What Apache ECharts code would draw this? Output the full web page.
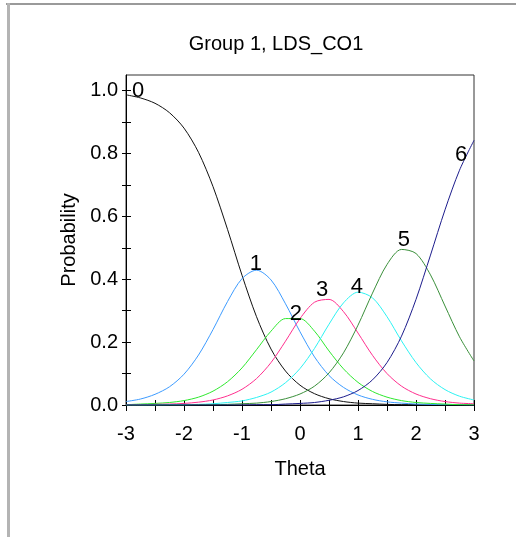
<html>
<head>
<meta charset="utf-8">
<script src="https://cdn.jsdelivr.net/npm/echarts@6/dist/echarts.min.js"></script>
<style>
html, body { margin: 0; padding: 0; background: #fff; }
#main { width: 516px; height: 537px; }
</style>
</head>
<body>
<div id="main"></div>
<script>
var theta = [-3, -2.75, -2.5, -2.25, -2, -1.75, -1.5, -1.25, -1, -0.75, -0.5, -0.25, 0,
             0.25, 0.5, 0.75, 1, 1.25, 1.5, 1.75, 2, 2.25, 2.5, 2.75, 3];

var p0 = [0.987, 0.977, 0.960, 0.930, 0.881, 0.804, 0.695, 0.559, 0.413, 0.281, 0.178, 0.108, 0.063,
          0.036, 0.020, 0.011, 0.006, 0.004, 0.002, 0.001, 0.001, 0, 0, 0, 0];
var p1 = [0.011, 0.019, 0.034, 0.058, 0.098, 0.159, 0.240, 0.329, 0.402, 0.429, 0.398, 0.322, 0.233,
          0.153, 0.094, 0.056, 0.032, 0.018, 0.010, 0.006, 0.003, 0.002, 0.001, 0.001, 0];
var p2 = [0.001, 0.003, 0.005, 0.008, 0.014, 0.025, 0.044, 0.074, 0.118, 0.176, 0.235, 0.275, 0.275,
          0.235, 0.172, 0.115, 0.072, 0.043, 0.025, 0.014, 0.008, 0.005, 0.003, 0.001, 0.001];
var p3 = [0.001, 0.001, 0.002, 0.003, 0.005, 0.009, 0.016, 0.029, 0.050, 0.084, 0.135, 0.203, 0.275,
          0.327, 0.336, 0.297, 0.229, 0.158, 0.100, 0.060, 0.035, 0.020, 0.011, 0.006, 0.004];
var p4 = [0, 0, 0, 0.001, 0.001, 0.002, 0.004, 0.008, 0.013, 0.024, 0.041, 0.071, 0.116,
          0.180, 0.257, 0.325, 0.359, 0.341, 0.281, 0.204, 0.135, 0.083, 0.049, 0.028, 0.016];
var p5 = [0, 0, 0, 0, 0, 0.001, 0.001, 0.002, 0.004, 0.006, 0.011, 0.020, 0.035,
          0.060, 0.102, 0.166, 0.254, 0.356, 0.447, 0.495, 0.482, 0.414, 0.315, 0.217, 0.140];
var p6 = [0, 0, 0, 0, 0, 0, 0, 0, 0, 0.001, 0.001, 0.003, 0.005,
          0.008, 0.015, 0.026, 0.046, 0.080, 0.135, 0.219, 0.336, 0.477, 0.621, 0.747, 0.842];

var curves = [p0, p1, p2, p3, p4, p5, p6];
var curveNames = ['0', '1', '2', '3', '4', '5', '6'];
var curveColors = ['#111111', '#3d9bff', '#2ee82e', '#ff2f8e', '#2cf2f2', '#3a8f3a', '#1c1c8c'];

// where each curve's number sits (theta, probability)
var labelTheta = [-2.79, -0.76, -0.07, 0.38, 0.98, 1.79, 2.78];
var labelProb = [1.0, 0.45, 0.29, 0.366, 0.376, 0.525, 0.796];

var xTicks = [-3, -2.5, -2, -1.5, -1, -0.5, 0, 0.5, 1, 1.5, 2, 2.5, 3];
var xLabels = [-3, -2, -1, 0, 1, 2, 3];
var yTicks = [0, 0.1, 0.2, 0.3, 0.4, 0.5, 0.6, 0.7, 0.8, 0.9, 1.0];
var yLabels = [0, 0.2, 0.4, 0.6, 0.8, 1.0];

var myChart = echarts.init(document.getElementById('main'));

var font = 'Liberation Sans, Arial, sans-serif';

function xAxisDef(inside, showLabel) {
    return {
        type: 'value', min: -3, max: 3, position: 'bottom',
        axisLine: { show: !inside, onZero: false, lineStyle: { color: '#000', width: 1 } },
        axisTick: { show: true, inside: inside, length: inside ? 5 : 6, customValues: xTicks,
                    lineStyle: { color: '#000', width: 1 } },
        axisLabel: { show: showLabel, customValues: xLabels, margin: 19,
                     color: '#000', fontSize: 20, fontFamily: font },
        splitLine: { show: false },
        name: showLabel ? 'Theta' : '', nameLocation: 'middle', nameGap: 54,
        nameTextStyle: { color: '#000', fontSize: 20, fontFamily: font }
    };
}

function yAxisDef(inside, showLabel) {
    return {
        type: 'value', min: 0, max: 1.05, position: 'left',
        axisLine: { show: !inside, onZero: false, lineStyle: { color: '#000', width: 1 } },
        axisTick: { show: true, inside: inside, length: inside ? 5 : 4, customValues: yTicks,
                    lineStyle: { color: '#000', width: 1 } },
        axisLabel: { show: showLabel, customValues: yLabels, margin: 8,
                     color: '#000', fontSize: 20, fontFamily: font,
                     formatter: function (v) { return v.toFixed(1); } },
        splitLine: { show: false },
        name: showLabel ? 'Probability' : '', nameLocation: 'middle', nameGap: 46,
        nameTextStyle: { color: '#000', fontSize: 20, fontFamily: font }
    };
}

var series = curves.map(function (vals, i) {
    return {
        name: curveNames[i],
        type: 'line',
        data: theta.map(function (t, j) { return [t, vals[j]]; }),
        showSymbol: false,
        smooth: 0.3,
        lineStyle: { color: curveColors[i], width: 1 },
        z: 3
    };
});

series.push({
    name: 'labels',
    type: 'scatter',
    symbolSize: 0,
    silent: true,
    itemStyle: { color: '#000', opacity: 1 },
    data: curveNames.map(function (n, i) {
        return { value: [labelTheta[i], labelProb[i]], name: n };
    }),
    label: {
        show: true, position: 'inside', formatter: '{b}',
        color: '#000', fontSize: 22, fontFamily: font,
        textBorderWidth: 0
    },
    z: 5
});

var option = {
    animation: false,
    backgroundColor: '#fff',
    title: {
        text: 'Group 1, LDS_CO1',
        left: 271, top: 29, textAlign: 'center',
        textStyle: { color: '#000', fontSize: 20, fontWeight: 'normal', fontFamily: font }
    },
    grid: {
        left: 126, right: 42, top: 75, bottom: 132,
        show: true, borderColor: '#333', borderWidth: 1
    },
    xAxis: [xAxisDef(false, true), xAxisDef(true, false)],
    yAxis: [yAxisDef(false, true), yAxisDef(true, false)],
    graphic: [
        { type: 'rect', shape: { x: 6, y: 3, width: 510, height: 2 }, style: { fill: '#9a9a9a' } },
        { type: 'rect', shape: { x: 7, y: 3, width: 3, height: 534 }, style: { fill: '#b4b4b4' } }
    ],
    series: series
};

myChart.setOption(option);
</script>
</body>
</html>
